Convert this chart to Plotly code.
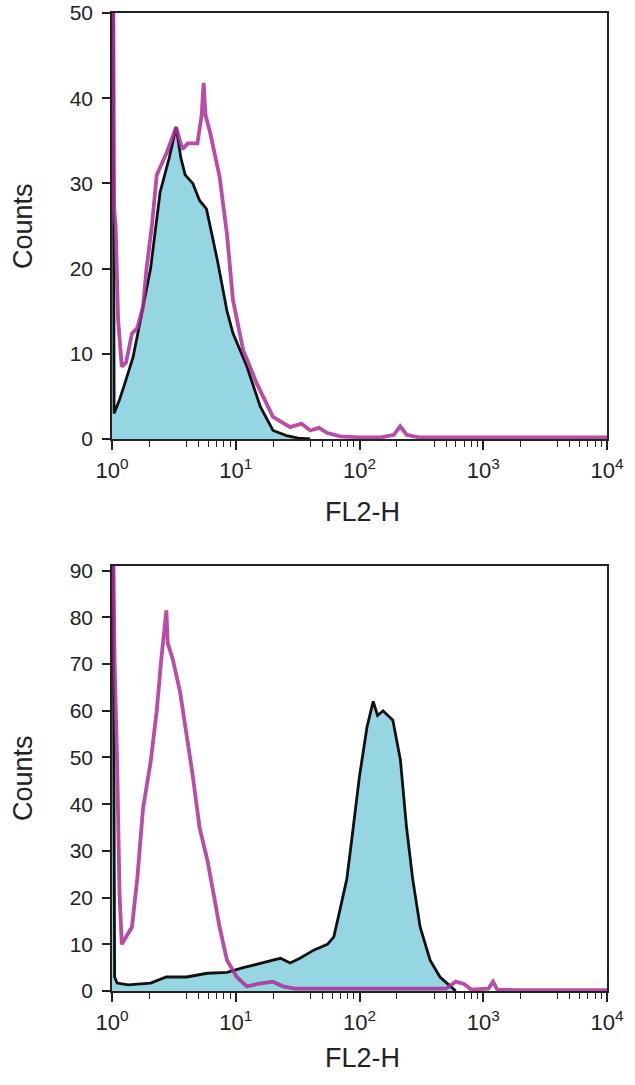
import plotly.graph_objects as go

# ---------------- data (FL2-H value, counts) ----------------
# Top panel: control (magenta line) and stained (cyan filled)
top_mag_x = [1.0, 1.02, 1.04, 1.07, 1.12, 1.2, 1.3, 1.45, 1.6, 1.78, 1.9, 2.1, 2.3, 2.75, 3.3, 3.7,
             4.1, 4.9, 5.3, 5.5, 5.7, 6.2, 7.4, 8.5, 9.5, 11.5, 14.8, 20, 27.5, 34, 40, 47, 55, 70,
             100, 150, 190, 213, 240, 300, 500, 1000, 2000, 5000, 10000]
top_mag_y = [60, 60, 27, 25, 14, 8.5, 9, 12.4, 13, 15.5, 20, 25, 31, 33.5, 36.6, 34,
             34.7, 34.7, 38, 41.8, 38, 36, 30.8, 24, 16.3, 10.4, 6.5, 2.6, 1.4, 1.8, 1, 1.3, 0.7, 0.3,
             0.2, 0.2, 0.5, 1.5, 0.5, 0.2, 0.2, 0.2, 0.2, 0.2, 0.2]

top_fill_x = [1.0, 1.02, 1.04, 1.15, 1.3, 1.48, 1.7, 2.05, 2.45, 2.9, 3.3, 3.6, 3.9, 4.5, 5.1,
              5.8, 7.1, 8.5, 9.5, 12.3, 15.8, 20, 25.7, 32, 40]
top_fill_y = [60, 60, 3, 4.6, 7, 9.6, 14, 20, 29, 33, 36.6, 33, 31, 30, 28,
              27, 21, 15, 12.4, 8.5, 3.8, 1, 0.4, 0.1, 0]

# Bottom panel
bot_mag_x = [1.0, 1.02, 1.03, 1.05, 1.1, 1.15, 1.2, 1.45, 1.6, 1.78, 2.05, 2.3, 2.5, 2.75, 2.82,
             3.1, 3.55, 4.1, 4.5, 5.1, 5.9, 6.6, 7.4, 8.5, 10.2, 12.3, 15, 20, 24, 30,
             100, 500, 600, 700, 800, 1100, 1200, 1300, 2000, 10000]
bot_mag_y = [100, 100, 89.5, 70, 49, 21, 10, 13.7, 24, 39, 49, 60, 71, 81.5, 74.5,
             71, 64, 53, 46, 35, 28, 21, 13.7, 6.6, 3, 1, 1.5, 2, 1, 0.5,
             0.5, 0.5, 2, 1.5, 0.3, 0.5, 2, 0.3, 0.2, 0.2]

bot_fill_x = [1.0, 1.02, 1.05, 1.1, 1.35, 2.05, 2.75, 4, 5.9, 8.5, 11.5, 15.8, 20, 23, 27.5,
              33, 43, 55, 62, 69, 79, 89, 100, 115, 129, 140, 155, 186, 214, 240, 269,
              309, 372, 447, 537, 600]
bot_fill_y = [100, 100, 3, 1.7, 1.3, 1.7, 3, 3, 3.8, 4, 5, 6, 6.6, 7, 6,
              7, 8.8, 10, 11.6, 17, 24, 35, 46, 56.5, 62, 59, 60, 58, 49.5, 35, 24,
              13.7, 6.6, 3, 1, 0]

major_vals = [1, 10, 100, 1000, 10000]
major_text = ["10<sup>0</sup>", "10<sup>1</sup>", "10<sup>2</sup>", "10<sup>3</sup>", "10<sup>4</sup>"]
minor_vals = [m * d for d in [1, 10, 100, 1000] for m in [2, 4, 5, 6, 7, 8, 9]]

top_yticks = [0, 10, 20, 30, 40, 50]
bot_yticks = [0, 10, 20, 30, 40, 50, 60, 70, 80, 90]

# ---------------- styling ----------------
CYAN = "#96d6e3"
MAG = "rgba(172,45,150,0.85)"
FONT = "Liberation Sans, Arial, sans-serif"
TXT = "#222222"

fig = go.Figure()

panels = [
    (top_fill_x, top_fill_y, top_mag_x, top_mag_y, "x", "y"),
    (bot_fill_x, bot_fill_y, bot_mag_x, bot_mag_y, "x2", "y2"),
]
for fx, fy, mx, my, xa, ya in panels:
    fig.add_trace(go.Scatter(x=fx, y=fy, mode="lines", fill="tozeroy", fillcolor=CYAN,
                             line=dict(color="#111111", width=2.8), xaxis=xa, yaxis=ya,
                             showlegend=False, hoverinfo="skip"))
    fig.add_trace(go.Scatter(x=mx, y=my, mode="lines",
                             line=dict(color=MAG, width=3.8), xaxis=xa, yaxis=ya,
                             showlegend=False, hoverinfo="skip"))

W, H = 635, 1085
xdom = [112 / W, 607 / W]
ydom1 = [1 - 439 / H, 1 - 13 / H]
ydom2 = [1 - 991 / H, 1 - 566 / H]

xcommon = dict(type="log", range=[0, 4], domain=xdom, showline=True, mirror=True,
               automargin=False,
               linecolor="#222222", linewidth=1.6, showgrid=False, zeroline=False,
               ticks="outside", ticklen=9, tickwidth=1.5, tickcolor="#222222",
               tickvals=major_vals, ticktext=major_text, ticklabelstandoff=2,
               tickfont=dict(family=FONT, size=22, color=TXT),
               minor=dict(tickvals=minor_vals, ticks="outside", ticklen=6,
                          tickwidth=1.3, tickcolor="#222222", showgrid=False))
ycommon = dict(showline=True, mirror=True, linecolor="#222222", linewidth=1.6,
               automargin=False,
               showgrid=False, zeroline=False, ticks="outside", ticklen=8,
               tickwidth=1.5, tickcolor="#222222", ticklabelstandoff=5,
               tickfont=dict(family=FONT, size=21, color=TXT))

fig.update_layout(
    width=W, height=H, margin=dict(l=0, r=0, t=0, b=0),
    paper_bgcolor="white", plot_bgcolor="white",
    xaxis=dict(**xcommon, anchor="y"),
    yaxis=dict(**ycommon, domain=ydom1, range=[0, 50], tickvals=top_yticks, anchor="x"),
    xaxis2=dict(**xcommon, anchor="y2"),
    yaxis2=dict(**ycommon, domain=ydom2, range=[0, 91], tickvals=bot_yticks, anchor="x2"),
)

ann_font = dict(family=FONT, size=27, color=TXT)
for yc in [226, 778]:
    fig.add_annotation(text="Counts", x=23 / W, y=1 - yc / H, xref="paper", yref="paper",
                       textangle=-90, showarrow=False, font=ann_font,
                       xanchor="center", yanchor="middle")
for yc in [512, 1058]:
    fig.add_annotation(text="FL2-H", x=362 / W, y=1 - yc / H, xref="paper", yref="paper",
                       showarrow=False, font=ann_font, xanchor="center", yanchor="middle")

fig.write_html("out.html")
